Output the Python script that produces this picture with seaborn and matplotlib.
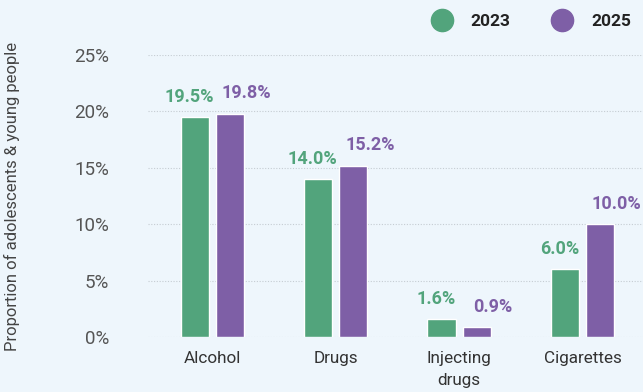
import pandas as pd
import matplotlib.pyplot as plt
import seaborn as sns
from matplotlib.lines import Line2D

# data
categories = ["Alcohol", "Drugs", "Injecting\ndrugs", "Cigarettes"]
years = ["2023", "2025"]
values_2023 = [19.5, 14.0, 1.6, 6.0]
values_2025 = [19.8, 15.2, 0.9, 10.0]
yticks = [0, 5, 10, 15, 20, 25]

colors = {"2023": "#52a47c", "2025": "#7e5fa6"}
bg = "#eef6fc"

df = pd.DataFrame({
    "category": categories * 2,
    "year": ["2023"] * 4 + ["2025"] * 4,
    "value": values_2023 + values_2025,
})

sns.set_style("white")
plt.rcParams["font.family"] = ["Roboto", "DejaVu Sans"]

fig = plt.figure(figsize=(6.43, 3.92), dpi=100, facecolor=bg)
ax = fig.add_axes([0.23, 0.14, 0.77, 0.72])
ax.set_facecolor(bg)

sns.barplot(data=df, x="category", y="value", hue="year", hue_order=years,
            palette=colors, width=0.568, gap=0.2, saturation=1,
            legend=False, ax=ax)

ax.set_xlim(-0.52, 3.49)
ax.set_ylim(0, 25)
ax.set_yticks(yticks)
ax.set_yticklabels([f"{t}%" for t in yticks], fontsize=13.5, color="#555555")
ax.tick_params(axis="y", length=0, pad=28)
ax.tick_params(axis="x", length=0, pad=10, labelsize=12.3, labelcolor="#333333")
for lbl in ax.get_xticklabels():
    lbl.set_linespacing(1.6)
ax.grid(axis="y", linestyle=(0, (1, 1.5)), color="#c5ccd2", linewidth=0.8)
ax.set_axisbelow(True)
for s in ax.spines.values():
    s.set_visible(False)
ax.set_xlabel("")
ax.set_ylabel("Proportion of adolescents & young people", fontsize=12,
              color="#444444")
ax.yaxis.set_label_coords(-0.258, 0.5)

# value labels
for i, yr in enumerate(years):
    container = ax.containers[i]
    dx = -4 if yr == "2023" else 12
    for bar in container:
        h = bar.get_height()
        ax.annotate(f"{h:.1f}%", (bar.get_x() + bar.get_width() / 2, h),
                    xytext=(dx, 8), textcoords="offset points",
                    ha="center", va="bottom", fontsize=13, fontweight="bold",
                    color=colors[yr], annotation_clip=False)

# legend
handles = [Line2D([], [], marker="o", linestyle="", markersize=16,
                  markerfacecolor=colors[y], markeredgecolor=colors[y])
           for y in years]
leg = fig.legend(handles, years, loc="upper right", bbox_to_anchor=(1.0, 0.995),
                 ncol=2, frameon=False, fontsize=12.5, handletextpad=0.65,
                 columnspacing=2.0, borderaxespad=0.3)
for t in leg.get_texts():
    t.set_fontweight("bold")
    t.set_color("#222222")

plt.savefig("out.png", dpi=100, facecolor=bg)
